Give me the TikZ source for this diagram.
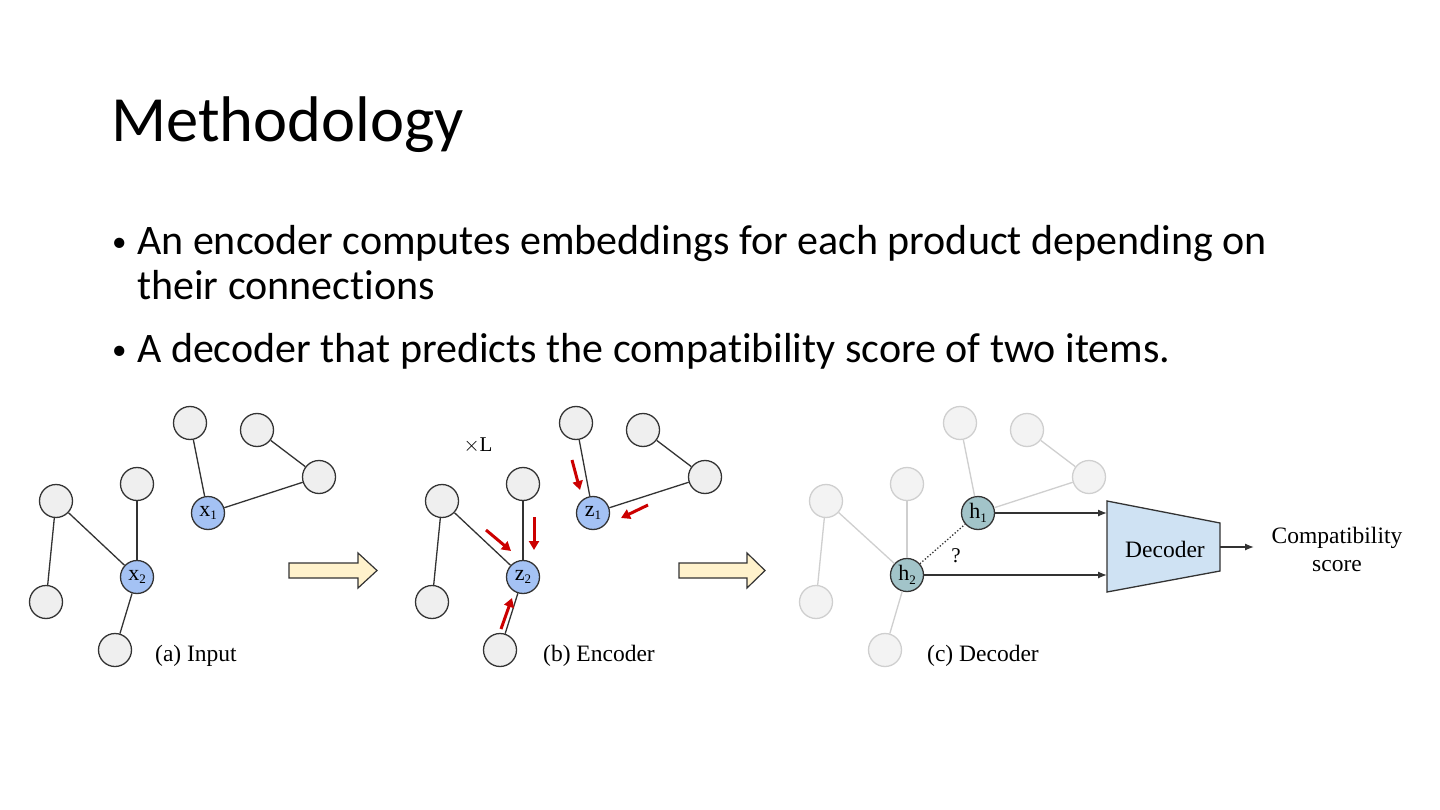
\documentclass[tikz,border=0pt]{standalone}
\usepackage{fontspec}
\setmainfont{Carlito}[Ligatures=NoCommon]
\newfontfamily\tms{Liberation Serif}
\usetikzlibrary{arrows.meta}
\definecolor{nodegray}{HTML}{EFEFEF}
\definecolor{linedark}{HTML}{333333}
\definecolor{nodeblue}{HTML}{A4C2F4}
\definecolor{nodeteal}{HTML}{A2C4C9}
\definecolor{lightfill}{HTML}{F3F3F3}
\definecolor{lightline}{HTML}{CFCFCF}
\definecolor{arrowfill}{HTML}{FFF2CC}
\definecolor{decfill}{HTML}{CFE2F3}
\definecolor{redarrow}{HTML}{CC0000}
\tikzset{
  gnode/.style={circle,draw=linedark,fill=nodegray,line width=1.3pt,minimum size=33pt,inner sep=0pt},
  bnode/.style={gnode,fill=nodeblue,font=\tms\fontsize{22}{22}\selectfont},
  lnode/.style={circle,draw=lightline,fill=lightfill,line width=1.3pt,minimum size=33pt,inner sep=0pt},
  tnode/.style={gnode,fill=nodeteal,font=\tms\fontsize{22}{22}\selectfont},
  edge/.style={draw=linedark,line width=1.3pt},
  ledge/.style={draw=lightline,line width=1.3pt},
  redarr/.style={draw=redarrow,line width=3pt,-{Triangle[length=9pt,width=10pt]}},
  blkarrow/.style={draw=linedark,fill=arrowfill,line width=1.2pt,line join=miter},
  caption/.style={font=\tms\fontsize{23.5}{23.5}\selectfont,anchor=base west,inner sep=0pt},
  connarr/.style={draw=linedark,line width=1.3pt,-{Latex[length=9pt,width=7pt]}},
  bodytext/.style={font=\fontsize{42}{45}\selectfont,anchor=base west,inner sep=0pt},
  bullettext/.style={font=\fontsize{29}{29}\selectfont,anchor=base west,inner sep=0pt},
  difftext/.style={font=\tms\fontsize{23.5}{28}\selectfont},
}
\newcommand{\sub}[2]{#1\raisebox{-0.35ex}{\fontsize{13}{13}\selectfont #2}}
\begin{document}
\begin{tikzpicture}[x=1pt,y=-1pt]
\useasboundingbox[fill=white] (0,0) rectangle (1440,810);

% title and bullets
\node[font=\fontsize{64.5}{66}\selectfont,anchor=base west,inner sep=0pt] (title) at (111,142) {Methodology};
\node[bullettext] (bul1) at (112,252) {•};
\node[bodytext] (t1) at (137,255) {An encoder computes embeddings for each product depending on};
\node[bodytext] (t2) at (137,300) {their connections};
\node[bullettext] (bul2) at (112,359) {•};
\node[bodytext] (t3) at (137,362) {A decoder that predicts the compatibility score of two items.};

% ---------- panel (a)
\node[gnode] (a1) at (190,423) {};
\node[gnode] (a2) at (257,430) {};
\node[gnode] (a3) at (319,477) {};
\node[bnode] (ax1) at (208,513) {\sub{x}{1}};
\node[gnode] (a4) at (56,501) {};
\node[gnode] (a5) at (137,484) {};
\node[bnode] (ax2) at (137,577) {\sub{x}{2}};
\node[gnode] (a6) at (46,602) {};
\node[gnode] (a7) at (115,650) {};
\draw[edge] (ax1) -- (a1);
\draw[edge] (ax1) -- (a3);
\draw[edge] (a2) -- (a3);
\draw[edge] (ax2) -- (a4);
\draw[edge] (ax2) -- (a5);
\draw[edge] (ax2) -- (a7);
\draw[edge] (a4) -- (a6);
\node[caption] (capa) at (155,661) {(a) Input};

\draw[blkarrow] (289,563) -- (358,563) -- (358,553) -- (377,570.5) -- (358,588) -- (358,578) -- (289,578) -- cycle;

% ---------- panel (b)
\node[gnode] (b1) at (576,423) {};
\node[gnode] (b2) at (643,430) {};
\node[gnode] (b3) at (705,477) {};
\node[bnode] (bz1) at (593,513) {\sub{z}{1}};
\node[gnode] (b4) at (442,501) {};
\node[gnode] (b5) at (523,484) {};
\node[bnode] (bz2) at (523,577) {\sub{z}{2}};
\node[gnode] (b6) at (432,602) {};
\node[gnode] (b7) at (500,650) {};
\draw[edge] (bz1) -- (b1);
\draw[edge] (bz1) -- (b3);
\draw[edge] (b2) -- (b3);
\draw[edge] (bz2) -- (b4);
\draw[edge] (bz2) -- (b5);
\draw[edge] (bz2) -- (b7);
\draw[edge] (b4) -- (b6);
\node[font=\tms\fontsize{21}{21}\selectfont] (xl) at (478,445) {$\times$L};
\node[caption] (capb) at (543,661) {(b) Encoder};

\draw[redarr] (572,460) -- (580,490);
\draw[redarr] (648,505) -- (621,518);
\draw[redarr] (486,530) -- (511,551);
\draw[redarr] (534,517) -- (534,550);
\draw[redarr] (501,629) -- (512,598);

\draw[blkarrow] (679,563) -- (747,563) -- (747,553) -- (765,570.5) -- (747,588) -- (747,578) -- (679,578) -- cycle;

% ---------- panel (c)
\node[lnode] (c1) at (960,423) {};
\node[lnode] (c2) at (1027,430) {};
\node[lnode] (c3) at (1089,477) {};
\node[lnode] (c4) at (826,501) {};
\node[lnode] (c5) at (907,484) {};
\node[lnode] (c6) at (816,602) {};
\node[lnode] (c7) at (885,650) {};
\node[tnode] (ch1) at (978,513) {\sub{h}{1}};
\node[tnode] (ch2) at (907,575) {\sub{h}{2}};
\path[ledge] (ch1) -- (c1);
\path[ledge] (ch1) -- (c3);
\path[ledge] (c2) -- (c3);
\path[ledge] (ch2) -- (c4);
\path[ledge] (ch2) -- (c5);
\path[ledge] (ch2) -- (c7);
\path[ledge] (c4) -- (c6);
\draw[draw=linedark,line width=1.3pt,dotted] (ch2) -- (ch1);
\node[font=\tms\fontsize{21}{21}\selectfont] (qm) at (956,556) {?};
\node[caption] (capc) at (927,661) {(c) Decoder};

% decoder trapezoid
\draw[draw=linedark,fill=decfill,line width=1.3pt,line join=miter] (1107,501) -- (1220,523) -- (1220,571) -- (1107,592) -- cycle;
\node[difftext] (dec) at (1165,549) {Decoder};
\coordinate (decL) at (1107,546);
\coordinate (decR) at (1220,547);
\coordinate (outend) at (1254,547);
\draw[connarr] (ch1) -- (ch1 -| decL);
\draw[connarr] (ch2) -- (ch2 -| decL);
\draw[connarr] (decR) -- (outend);
\node[difftext,align=center] (score) at (1337,549) {Compatibility\\score};
\end{tikzpicture}
\end{document}
